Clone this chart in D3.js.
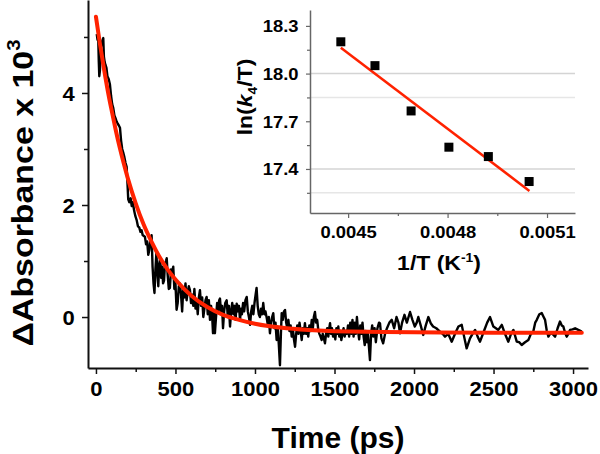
<!DOCTYPE html>
<html><head><meta charset="utf-8">
<script src="https://cdn.jsdelivr.net/npm/d3@7"></script>
<style>
body{margin:0;background:#fff;}
text{font-family:"Liberation Sans",Arial,sans-serif;font-weight:bold;fill:#000;}
</style></head>
<body><svg id="c" width="600" height="454"></svg>
<script>
// ---- Main trace data (time in ps, ΔAbsorbance x 10^3) ----
const timePs = [5,10,14,18,21,25,30,36,42,46,50,55,60,66,72,80,88,95,102,109,116,123,130,137,144,151,158,165,172,179,186,193,198,203,210,218,225,232,240,248,256,264,272,280,287,294,301,308,315,322,329,336,343,350,356,362,368,374,380,386,392,398,404,410,416,422,428,434,440,445,451,458,465,472,479,486,493,500,507,514,521,528,535,542,549,556,563,570,577,584,591,598,605,612,619,626,633,640,647,654,661,668,675,682,689,696,703,710,717,724,731,736,742,748,755,762,769,775,780,787,793,799,806,813,822,829,836,843,850,857,864,871,878,885,892,899,906,912,918,925,932,940,948,955,962,969,976,983,990,997,1004,1010,1017,1024,1031,1038,1045,1052,1059,1066,1074,1081,1087,1094,1101,1108,1115,1122,1129,1136,1143,1150,1157,1163,1168,1175,1182,1189,1196,1203,1210,1217,1224,1231,1238,1245,1252,1259,1266,1273,1280,1287,1294,1300,1307,1314,1321,1328,1335,1342,1350,1357,1364,1370,1377,1384,1391,1398,1405,1412,1419,1426,1433,1440,1447,1454,1461,1467,1472,1478,1484,1491,1498,1505,1512,1518,1524,1530,1536,1543,1550,1557,1564,1571,1578,1585,1592,1599,1606,1613,1620,1627,1634,1641,1648,1655,1662,1669,1676,1683,1690,1697,1704,1710,1717,1723,1730,1737,1744,1752,1760,1770,1780,1786,1795,1806,1818,1830,1845,1860,1875,1890,1902,1912,1925,1940,1955,1975,1990,2005,2017,2027,2042,2058,2074,2090,2105,2120,2140,2160,2180,2195,2215,2237,2258,2279,2300,2315,2331,2352,2368,2384,2400,2415,2440,2460,2478,2499,2515,2530,2552,2572,2593,2610,2625,2646,2662,2677,2698,2719,2735,2750,2762,2772,2788,2803,2815,2824,2835,2845,2855,2866,2877,2887,2903,2918,2929,2939,2950,2960,2970,2981,2997,3013,3033,3055];
const absorb = [5.05,4.95,5.02,4.55,4.3,4.4,4.8,4.9,4.95,4.98,4.65,4.55,4.5,4.45,4.3,4.25,4.15,3.95,3.8,3.73,3.6,3.55,3.49,3.45,3.42,3.38,3.15,3.0,2.93,2.85,2.75,2.68,2.4,2.1,2.05,2.12,1.98,2.05,1.9,1.8,1.73,1.62,1.6,1.52,1.55,1.46,1.45,1.43,1.3,1.35,1.11,1.2,1.4,1.46,0.9,0.6,0.43,0.85,1.14,0.8,0.55,0.95,1.05,0.7,0.9,0.6,0.65,0.95,1.0,1.05,0.75,0.5,0.52,0.85,0.8,0.9,0.5,0.6,0.13,0.25,0.55,0.6,0.4,0.1,0.5,0.35,0.6,0.3,0.45,0.55,0.48,0.25,0.4,0.2,0.5,0.15,0.3,0.05,0.35,0.48,0.2,0.35,0.0,0.15,0.3,0.36,0.05,0.3,-0.05,0.2,0.0,-0.29,0.1,-0.29,0.0,0.25,0.1,0.3,0.33,0.05,0.2,-0.2,0.1,0.25,0.3,0.0,0.2,-0.17,0.1,0.25,0.05,0.2,-0.05,0.24,0.1,0.2,-0.05,0.15,0.05,0.25,0.1,0.3,0.36,0.1,0.0,-0.14,0.1,0.2,0.05,0.25,0.4,0.52,0.2,0.05,0.0,0.15,0.05,0.25,0.05,0.1,-0.02,-0.15,0.0,-0.29,-0.1,0.0,0.07,-0.2,-0.1,-0.41,-0.2,-0.5,-0.86,-0.3,0.07,-0.05,0.1,0.125,-0.1,-0.2,-0.05,-0.25,-0.15,-0.35,-0.2,-0.4,-0.53,-0.3,-0.15,-0.3,-0.1,-0.25,-0.41,-0.2,-0.3,-0.11,-0.3,-0.2,-0.35,-0.15,-0.25,-0.05,-0.2,0.0,0.09,-0.1,-0.05,-0.23,-0.3,-0.35,-0.41,-0.3,-0.38,-0.47,-0.3,-0.2,-0.35,-0.2,-0.11,-0.3,-0.2,-0.35,-0.25,-0.4,-0.2,-0.3,-0.17,-0.35,-0.25,-0.41,-0.3,-0.2,-0.35,-0.25,-0.3,-0.15,-0.35,-0.1,-0.3,-0.05,-0.35,-0.1,-0.3,0.0,-0.25,-0.4,-0.15,-0.3,-0.1,-0.35,-0.5,-0.25,-0.45,-0.3,-0.55,-0.77,-0.3,-0.15,-0.35,-0.2,-0.45,-0.2,-0.1,-0.11,-0.38,-0.47,-0.3,-0.2,-0.1,-0.05,-0.2,0.0,-0.1,-0.29,-0.1,0.04,-0.1,0.09,-0.05,-0.17,-0.1,0.0,-0.15,-0.32,-0.15,0.0,-0.11,-0.17,-0.2,-0.25,-0.3,-0.35,-0.3,-0.44,-0.3,-0.17,-0.14,-0.35,-0.56,-0.38,-0.3,-0.23,-0.35,-0.44,-0.25,-0.1,0.0,-0.17,-0.2,-0.23,-0.14,-0.3,-0.44,-0.3,-0.23,-0.44,-0.45,-0.5,-0.45,-0.41,-0.3,-0.26,-0.1,-0.05,0.05,0.07,0.0,-0.05,-0.25,-0.35,-0.3,-0.29,-0.32,-0.35,-0.2,-0.08,-0.15,-0.17,-0.28,-0.35,-0.3,-0.23,-0.22,-0.2,-0.23,-0.26];

// ---- Red fit curve ----
const fitTime = [0,25,50,75,100,125,150,175,200,250,300,350,400,450,500,600,700,800,900,1000,1200,1400,1600,2000,2500,3055];
const fitAbs  = [5.36,4.88,4.44,4.03,3.67,3.33,3.02,2.74,2.48,2.03,1.65,1.34,1.07,0.85,0.67,0.38,0.18,0.04,-0.05,-0.12,-0.20,-0.24,-0.26,-0.27,-0.28,-0.28];

// ---- Main axis ticks ----
const xMajorTicks = [0,500,1000,1500,2000,2500,3000];
const xMinorTicks = [250,750,1250,1750,2250,2750];
const yMajorTicks = [0,2,4];
const yMinorTicks = [1,3,5];

// ---- Inset data ----
const invT = [0.004478,0.004581,0.004690,0.004804,0.004923,0.005046];
const lnkT = [18.20,18.05,17.765,17.537,17.478,17.321];
const lineInvT = [0.004478,0.005047];
const lineLnkT = [18.163,17.262];
const insetXTicks = [0.0045,0.0048,0.0051];
const insetXMinor = [0.00465,0.00495];
const insetYTicks = [17.4,17.7,18.0,18.3];
const insetYMinor = [17.25,17.55,17.85,18.15];
const insetGrid = [17.25,17.4,17.85,18.0];

const svg = d3.select("#c");
const RED = "#ff2200";

// ---- Main scales ----
const x = d3.scaleLinear().domain([-50,3094]).range([88,588]);
const y = d3.scaleLinear().domain([-0.91,5.66]).range([368,0]);

// axes
const gx = svg.append("g").attr("transform","translate(0,368)")
  .call(d3.axisBottom(x).tickValues(xMajorTicks).tickSize(6).tickSizeOuter(0).tickPadding(8).tickFormat(d3.format("d")));
svg.append("g").attr("transform","translate(0,368)")
  .call(d3.axisBottom(x).tickValues(xMinorTicks).tickSize(4).tickSizeOuter(0).tickFormat(""))
  .select(".domain").remove();
const gy = svg.append("g").attr("transform","translate(88,0)")
  .call(d3.axisLeft(y).tickValues(yMajorTicks).tickSize(6).tickSizeOuter(0).tickPadding(6).tickFormat(d3.format("d")));
svg.append("g").attr("transform","translate(88,0)")
  .call(d3.axisLeft(y).tickValues(yMinorTicks).tickSize(4).tickSizeOuter(0).tickFormat(""))
  .select(".domain").remove();
svg.selectAll(".domain").attr("stroke","#111").attr("stroke-width",2);
svg.selectAll(".tick line").attr("stroke","#111").attr("stroke-width",1.5);
gx.selectAll("text").attr("font-size",20).attr("font-family","Liberation Sans, Arial, sans-serif").attr("font-weight","bold").attr("fill","#000")
  .attr("transform","scale(1.1,1)");
gy.selectAll("text").attr("font-size",20).attr("font-family","Liberation Sans, Arial, sans-serif").attr("font-weight","bold").attr("fill","#000")
  .attr("transform","scale(1.1,1)").attr("dy","0.36em");

// black trace
const traceData = timePs.map((t,i)=>[t,absorb[i]]);
svg.append("path").datum(traceData)
  .attr("fill","none").attr("stroke","#000").attr("stroke-width",2.4).attr("stroke-linejoin","round")
  .attr("d", d3.line().x(d=>x(d[0])).y(d=>y(d[1])));

// red fit
const fitData = fitTime.map((t,i)=>[t,fitAbs[i]]);
svg.append("path").datum(fitData)
  .attr("fill","none").attr("stroke",RED).attr("stroke-width",4).attr("stroke-linecap","round")
  .attr("d", d3.line().curve(d3.curveMonotoneX).x(d=>x(d[0])).y(d=>y(d[1])));

// axis titles
svg.append("text").attr("x",338).attr("y",448).attr("text-anchor","middle").attr("font-size",30).text("Time (ps)");
const yl = svg.append("text").attr("transform","translate(33,193) rotate(-90) scale(1.13,1)")
  .attr("text-anchor","middle").attr("font-size",30);
yl.append("tspan").text("\u0394Absorbance x 10");
yl.append("tspan").attr("font-size",18).attr("dy",-13).text("3");

// ---- Inset ----
const ix = d3.scaleLinear().domain([0.004385,0.0051844]).range([310,575]);
const iy = d3.scaleLinear().domain([17.123,18.40]).range([213,10]);
const ins = svg.append("g");
ins.selectAll("line.grid").data(insetGrid).enter().append("line")
  .attr("x1",310).attr("x2",575).attr("y1",d=>iy(d)).attr("y2",d=>iy(d))
  .attr("stroke",d=> (d===18.0||d===17.4)?"#d4d4d4":"#e6e6e6").attr("stroke-width",1.5);
const igx = ins.append("g").attr("transform","translate(0,213)")
  .call(d3.axisBottom(ix).tickValues(insetXTicks).tickSize(5).tickSizeOuter(0).tickPadding(9).tickFormat(d3.format(".4f")));
ins.append("g").attr("transform","translate(0,213)")
  .call(d3.axisBottom(ix).tickValues(insetXMinor).tickSize(3).tickSizeOuter(0).tickFormat(""))
  .select(".domain").remove();
const igy = ins.append("g").attr("transform","translate(310,0)")
  .call(d3.axisLeft(iy).tickValues(insetYTicks).tickSize(4).tickSizeOuter(0).tickPadding(6).tickFormat(d3.format(".1f")));
ins.append("g").attr("transform","translate(310,0)")
  .call(d3.axisLeft(iy).tickValues(insetYMinor).tickSize(3).tickSizeOuter(0).tickFormat(""))
  .select(".domain").remove();
ins.selectAll(".domain").attr("stroke","#666").attr("stroke-width",1.5);
ins.selectAll(".tick line").attr("stroke","#666").attr("stroke-width",1.2);
ins.selectAll(".tick text").attr("font-size",16).attr("font-family","Liberation Sans, Arial, sans-serif").attr("font-weight","bold").attr("fill","#000")
  .attr("transform","scale(1.15,1)");
igy.selectAll("text").attr("dy","0.36em");

// fit line
ins.append("path").datum(lineInvT.map((v,i)=>[v,lineLnkT[i]]))
  .attr("fill","none").attr("stroke",RED).attr("stroke-width",2.5)
  .attr("d", d3.line().x(d=>ix(d[0])).y(d=>iy(d[1])));
// squares
ins.selectAll("rect.pt").data(invT.map((v,i)=>[v,lnkT[i]])).enter().append("rect")
  .attr("x",d=>ix(d[0])-4.5).attr("y",d=>iy(d[1])-4.5).attr("width",9).attr("height",9).attr("fill","#000");

// inset titles
const ixl = svg.append("text").attr("transform","translate(439,270) scale(1.15,1)").attr("text-anchor","middle").attr("font-size",20);
ixl.append("tspan").text("1/T (K");
ixl.append("tspan").attr("font-size",12).attr("dy",-8).text("-1");
ixl.append("tspan").attr("dy",8).text(")");
const iyl = svg.append("text").attr("transform","translate(252,97) rotate(-90) scale(1.15,1)").attr("text-anchor","middle").attr("font-size",20);
iyl.append("tspan").text("ln(");
iyl.append("tspan").attr("font-style","italic").text("k");
iyl.append("tspan").attr("font-size",12).attr("dy",5).text("4");
iyl.append("tspan").attr("dy",-5).text("/T)");
</script></body></html>
